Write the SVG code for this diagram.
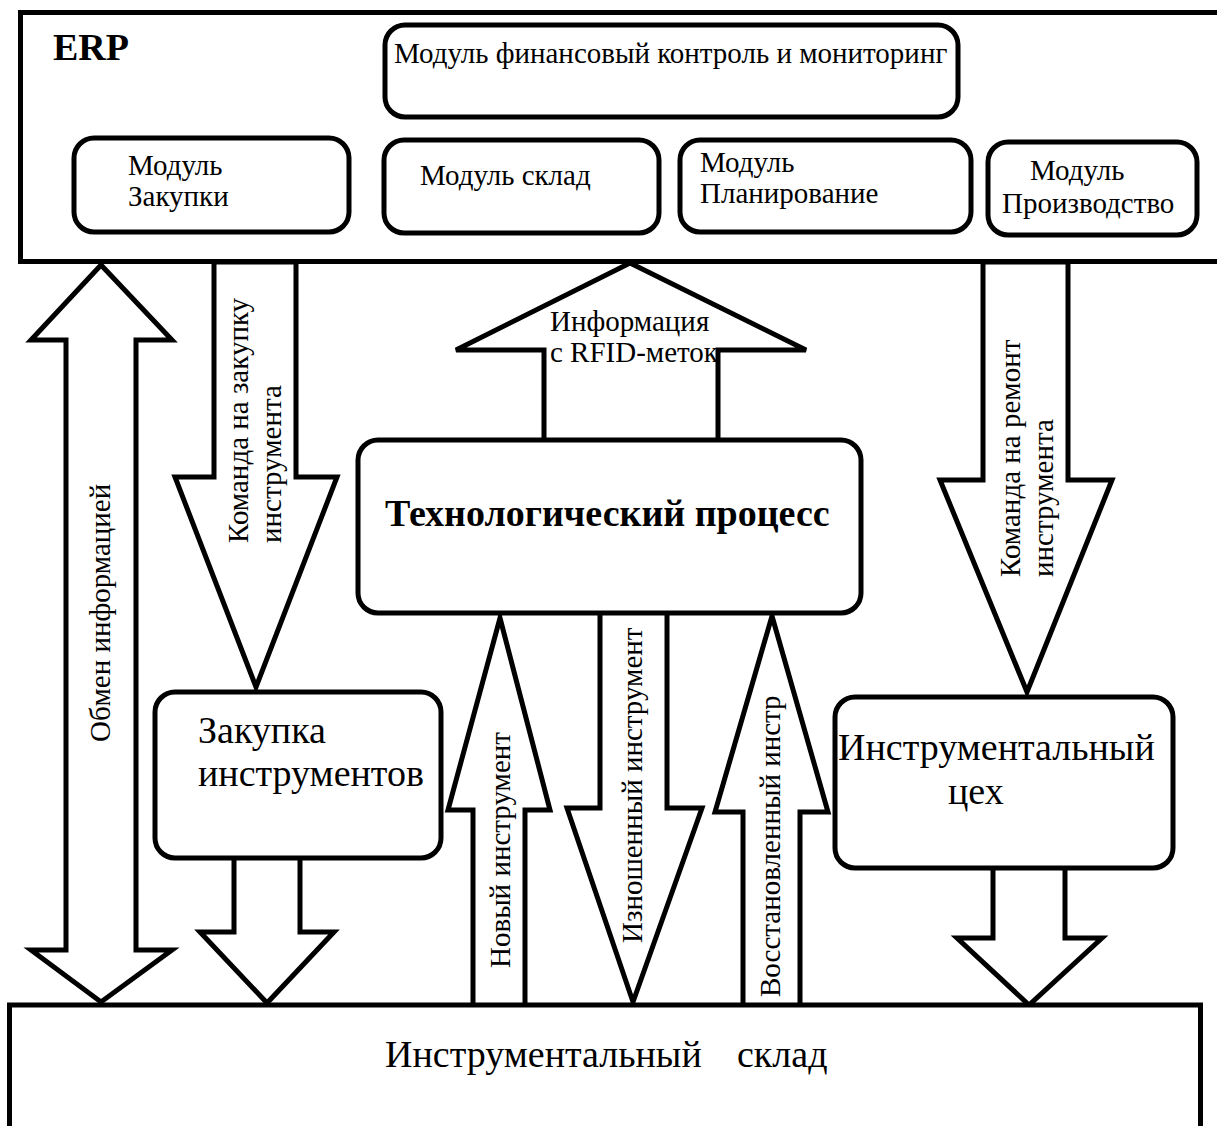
<svg xmlns="http://www.w3.org/2000/svg" width="1217" height="1126" viewBox="0 0 1217 1126">
<style>
.s{fill:#fff;stroke:#000;stroke-width:5;stroke-linejoin:miter}
.b{fill:#fff;stroke:#000;stroke-width:5}
.t{font-family:"Liberation Serif","Times New Roman",serif;font-size:29px;fill:#000}
.L{font-family:"Liberation Serif","Times New Roman",serif;font-size:38px;fill:#000}
.B{font-family:"Liberation Serif","Times New Roman",serif;font-size:38px;font-weight:bold;fill:#000}
</style>
<rect width="1217" height="1126" fill="#fff"/>
<g id="connectors">
<polygon class="s" points="101,265 31,340 66,340 66,950 31,950 101,1002 172,950 136,950 136,340 172,340"/>
<polygon class="s" points="214,262 296,262 296,477 337,477 256,687 175,477 214,477"/>
<polygon class="s" points="983,262 1068,262 1068,480 1112,480 1027,692 940,480 983,480"/>
<polygon class="s" points="630,263 806,350 718,350 718,442 544,442 544,350 456,350"/>
<polygon class="s" points="234,856 300,856 300,932 334,932 267,1003 200,932 234,932"/>
<polygon class="s" points="993,866 1065,866 1065,938 1102,938 1029,1005 957,938 993,938"/>
<polygon class="s" points="500,618 550,810 525,810 525,1007 473,1007 473,810 448,810"/>
<polygon class="s" points="600,611 667,611 667,808 702,808 633,1002 567,808 600,808"/>
<polygon class="s" points="772,616 828,812 800,812 800,1007 743,1007 743,812 715,812"/>
</g>
<g id="erp">
<rect class="b" x="20.5" y="12.5" width="1215" height="249"/>
<text class="B" x="53" y="60">ERP</text>
</g>
<g id="mod-fin">
<rect class="b" x="385" y="25" width="573" height="92" rx="20"/>
<text class="t" x="394" y="63">Модуль финансовый контроль и мониторинг</text>
</g>
<g id="mod-zakupki">
<rect class="b" x="74" y="138" width="275" height="94" rx="20"/>
<text class="t" x="128" y="175">Модуль</text>
<text class="t" x="128" y="206">Закупки</text>
</g>
<g id="mod-sklad">
<rect class="b" x="384" y="140" width="275" height="93" rx="20"/>
<text class="t" x="420" y="185">Модуль склад</text>
</g>
<g id="mod-plan">
<rect class="b" x="680" y="140" width="291" height="92" rx="20"/>
<text class="t" x="700" y="172">Модуль</text>
<text class="t" x="700" y="203">Планирование</text>
</g>
<g id="mod-proizv">
<rect class="b" x="988" y="142" width="209" height="93" rx="20"/>
<text class="t" x="1030" y="180">Модуль</text>
<text class="t" x="1002" y="213">Производство</text>
</g>
<g id="tech">
<rect class="b" x="358" y="440" width="503" height="173" rx="20"/>
<text class="B" x="385" y="526">Технологический процесс</text>
</g>
<g id="zakupka">
<rect class="b" x="155" y="692" width="286" height="166" rx="20"/>
<text class="L" x="198" y="743">Закупка</text>
<text class="L" x="198" y="786">инструментов</text>
</g>
<g id="ceh">
<rect class="b" x="835" y="697" width="338" height="171" rx="20"/>
<text class="L" x="838" y="760">Инструментальный</text>
<text class="L" x="948" y="804">цех</text>
</g>
<g id="sklad">
<rect class="b" x="9.5" y="1005" width="1191" height="140"/>
<text class="L" x="385" y="1067">Инструментальный<tspan x="737">склад</tspan></text>
</g>
<g id="labels">
<text class="t" x="550" y="331">Информация</text>
<text class="t" x="550" y="362">с RFID-меток</text>
<text class="t" transform="translate(110,742) rotate(-90)">Обмен информацией</text>
<text class="t" transform="translate(248,543) rotate(-90)">Команда на закупку</text>
<text class="t" transform="translate(281,543) rotate(-90)">инструмента</text>
<text class="t" transform="translate(1020,577) rotate(-90)">Команда на ремонт</text>
<text class="t" transform="translate(1053,577) rotate(-90)">инструмента</text>
<text class="t" transform="translate(510,968) rotate(-90)">Новый инструмент</text>
<text class="t" transform="translate(642,943) rotate(-90)">Изношенный инструмент</text>
<text class="t" transform="translate(780,997) rotate(-90)">Восстановленный инстр</text>
</g>
</svg>
